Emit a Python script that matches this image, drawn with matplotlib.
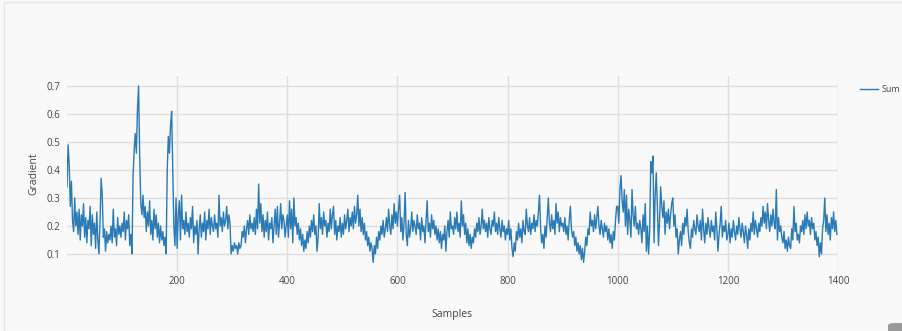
import numpy as np
import matplotlib.pyplot as plt
from matplotlib.patches import FancyBboxPatch, Rectangle

# sample index (every second sample) and gradient sum
samples = np.arange(0, 1400, 2)

gradient = [
    # 0 - 98
    0.34, 0.49, 0.42, 0.27, 0.36, 0.22, 0.18, 0.30, 0.20, 0.25,
    0.17, 0.26, 0.15, 0.24, 0.20, 0.28, 0.16, 0.23, 0.14, 0.22,
    0.19, 0.27, 0.13, 0.24, 0.17, 0.21, 0.12, 0.25, 0.15, 0.10,
    0.22, 0.37, 0.31, 0.16, 0.19, 0.11, 0.18, 0.14, 0.17, 0.15,
    0.20, 0.14, 0.26, 0.16, 0.19, 0.13, 0.23, 0.17, 0.20, 0.16,
    # 100 - 198
    0.21, 0.18, 0.25, 0.15, 0.22, 0.19, 0.24, 0.13, 0.17, 0.10,
    0.38, 0.47, 0.53, 0.46, 0.62, 0.70, 0.45, 0.28, 0.24, 0.31,
    0.23, 0.27, 0.18, 0.25, 0.20, 0.29, 0.17, 0.22, 0.15, 0.26,
    0.19, 0.24, 0.16, 0.21, 0.14, 0.20, 0.15, 0.18, 0.13, 0.16,
    0.10, 0.40, 0.52, 0.46, 0.56, 0.61, 0.41, 0.20, 0.13, 0.30,
    # 200 - 298
    0.12, 0.24, 0.29, 0.15, 0.31, 0.19, 0.22, 0.17, 0.25, 0.18,
    0.21, 0.16, 0.23, 0.19, 0.27, 0.14, 0.20, 0.17, 0.22, 0.10,
    0.19, 0.24, 0.16, 0.21, 0.18, 0.25, 0.15, 0.22, 0.19, 0.26,
    0.17, 0.23, 0.20, 0.18, 0.24, 0.19, 0.21, 0.16, 0.31, 0.20,
    0.23, 0.18, 0.25, 0.20, 0.22, 0.27, 0.19, 0.24, 0.21, 0.10,
    # 300 - 398
    0.13, 0.11, 0.14, 0.12, 0.13, 0.10, 0.14, 0.12, 0.13, 0.18,
    0.16, 0.20, 0.14, 0.19, 0.22, 0.17, 0.24, 0.19, 0.21, 0.18,
    0.23, 0.17, 0.26, 0.19, 0.35, 0.21, 0.28, 0.18, 0.24, 0.16,
    0.22, 0.18, 0.25, 0.15, 0.21, 0.19, 0.23, 0.14, 0.20, 0.26,
    0.17, 0.27, 0.16, 0.21, 0.28, 0.19, 0.24, 0.22, 0.16, 0.20,
    # 400 - 498
    0.24, 0.16, 0.29, 0.19, 0.26, 0.14, 0.30, 0.20, 0.23, 0.17,
    0.21, 0.15, 0.19, 0.13, 0.17, 0.11, 0.15, 0.12, 0.18, 0.14,
    0.20, 0.16, 0.22, 0.18, 0.24, 0.17, 0.20, 0.11, 0.16, 0.28,
    0.19, 0.23, 0.17, 0.25, 0.20, 0.22, 0.16, 0.21, 0.18, 0.26,
    0.19, 0.24, 0.27, 0.17, 0.22, 0.15, 0.20, 0.18, 0.23, 0.16,
    # 500 - 598
    0.21, 0.17, 0.24, 0.19, 0.22, 0.26, 0.18, 0.23, 0.20, 0.25,
    0.19, 0.27, 0.21, 0.24, 0.31, 0.20, 0.26, 0.18, 0.23, 0.17,
    0.21, 0.15, 0.18, 0.13, 0.16, 0.11, 0.14, 0.12, 0.07, 0.13,
    0.10, 0.16, 0.12, 0.18, 0.15, 0.20, 0.17, 0.22, 0.16, 0.19,
    0.23, 0.18, 0.26, 0.20, 0.17, 0.24, 0.19, 0.28, 0.21, 0.25,
    # 600 - 698
    0.20, 0.26, 0.31, 0.18, 0.23, 0.15, 0.21, 0.32, 0.17, 0.13,
    0.22, 0.16, 0.19, 0.25, 0.18, 0.22, 0.20, 0.17, 0.24, 0.19,
    0.21, 0.15, 0.23, 0.18, 0.20, 0.14, 0.22, 0.29, 0.18, 0.21,
    0.16, 0.24, 0.19, 0.22, 0.17, 0.20, 0.15, 0.19, 0.14, 0.18,
    0.12, 0.17, 0.15, 0.20, 0.11, 0.18, 0.22, 0.16, 0.25, 0.19,
    # 700 - 798
    0.20, 0.17, 0.23, 0.19, 0.25, 0.18, 0.21, 0.16, 0.29, 0.20,
    0.24, 0.17, 0.21, 0.14, 0.19, 0.13, 0.17, 0.12, 0.16, 0.14,
    0.19, 0.16, 0.21, 0.18, 0.23, 0.17, 0.20, 0.26, 0.19, 0.22,
    0.18, 0.21, 0.16, 0.23, 0.19, 0.17, 0.22, 0.20, 0.25, 0.18,
    0.21, 0.17, 0.23, 0.19, 0.16, 0.22, 0.18, 0.20, 0.15, 0.19,
    # 800 - 898
    0.17, 0.22, 0.15, 0.19, 0.12, 0.09, 0.14, 0.11, 0.18, 0.15,
    0.21, 0.16, 0.19, 0.14, 0.22, 0.18, 0.17, 0.26, 0.20, 0.18,
    0.23, 0.17, 0.21, 0.19, 0.24, 0.18, 0.22, 0.20, 0.25, 0.31,
    0.19, 0.14, 0.17, 0.12, 0.20, 0.16, 0.23, 0.30, 0.21, 0.18,
    0.24, 0.19, 0.22, 0.17, 0.28, 0.21, 0.25, 0.18, 0.23, 0.20,
    # 900 - 998
    0.21, 0.18, 0.23, 0.17, 0.20, 0.15, 0.22, 0.27, 0.19, 0.16,
    0.18, 0.13, 0.16, 0.11, 0.14, 0.10, 0.13, 0.08, 0.12, 0.07,
    0.11, 0.16, 0.13, 0.19, 0.17, 0.25, 0.20, 0.22, 0.18, 0.24,
    0.19, 0.23, 0.27, 0.20, 0.17, 0.22, 0.19, 0.16, 0.21, 0.18,
    0.20, 0.15, 0.19, 0.14, 0.17, 0.12, 0.18, 0.15, 0.22, 0.27,
    # 1000 - 1098
    0.27, 0.21, 0.33, 0.38, 0.29, 0.25, 0.33, 0.20, 0.31, 0.17,
    0.26, 0.22, 0.16, 0.33, 0.24, 0.20, 0.27, 0.19, 0.21, 0.17,
    0.22, 0.19, 0.14, 0.24, 0.18, 0.28, 0.11, 0.20, 0.10, 0.18,
    0.43, 0.39, 0.45, 0.14, 0.31, 0.39, 0.27, 0.13, 0.22, 0.34,
    0.27, 0.23, 0.29, 0.17, 0.25, 0.21, 0.26, 0.19, 0.24, 0.28,
    # 1100 - 1198
    0.30, 0.20, 0.24, 0.16, 0.19, 0.10, 0.15, 0.18, 0.13, 0.21,
    0.17, 0.23, 0.20, 0.26, 0.18, 0.14, 0.12, 0.19, 0.16, 0.22,
    0.19, 0.17, 0.24, 0.20, 0.18, 0.22, 0.15, 0.26, 0.19, 0.14,
    0.21, 0.17, 0.23, 0.19, 0.16, 0.22, 0.18, 0.20, 0.15, 0.25,
    0.19, 0.11, 0.17, 0.21, 0.27, 0.16, 0.20, 0.18, 0.22, 0.15,
    # 1200 - 1298
    0.17, 0.21, 0.14, 0.19, 0.16, 0.22, 0.18, 0.15, 0.20, 0.17,
    0.23, 0.19, 0.16, 0.21, 0.18, 0.14, 0.20, 0.17, 0.12, 0.19,
    0.15, 0.21, 0.18, 0.25, 0.17, 0.22, 0.19, 0.16, 0.21, 0.18,
    0.23, 0.20, 0.27, 0.21, 0.25, 0.19, 0.28, 0.22, 0.18, 0.24,
    0.20, 0.26, 0.21, 0.19, 0.33, 0.15, 0.23, 0.18, 0.20, 0.16,
    # 1300 - 1398
    0.14, 0.18, 0.12, 0.15, 0.11, 0.16, 0.13, 0.12, 0.19, 0.15,
    0.27, 0.18, 0.21, 0.15, 0.17, 0.14, 0.20, 0.18, 0.22, 0.17,
    0.24, 0.19, 0.25, 0.20, 0.22, 0.17, 0.23, 0.19, 0.21, 0.15,
    0.18, 0.13, 0.16, 0.09, 0.14, 0.10, 0.19, 0.22, 0.30, 0.18,
    0.24, 0.17, 0.21, 0.15, 0.23, 0.19, 0.25, 0.18, 0.22, 0.17,
]

x_ticks = [200, 400, 600, 800, 1000, 1200, 1400]
y_ticks = [0.1, 0.2, 0.3, 0.4, 0.5, 0.6, 0.7]

plt.rcParams['font.family'] = ['Open Sans', 'DejaVu Sans']

W, H = 902, 331
fig = plt.figure(figsize=(W / 100, H / 100), dpi=100)
fig.patch.set_facecolor('#f9f9f9')

# container border and scroll thumb
fig.add_artist(Rectangle((4 / W, 0), 1, 1 - 2 / H, transform=fig.transFigure,
                         facecolor='none', edgecolor='#e6e6e6', lw=1))
fig.add_artist(FancyBboxPatch((888 / W, -4 / H), 20 / W, 12 / H,
                              boxstyle='round,pad=0,rounding_size=0.008',
                              transform=fig.transFigure, facecolor='#9a9a9a',
                              edgecolor='none'))

ax = fig.add_axes([67 / W, 1 - 272 / H, (838 - 67) / W, (272 - 76) / H])
ax.set_facecolor('#f9f9f9')

ax.plot(samples, gradient, color='#2a7ab5', lw=1.0, label='Sum')

ax.set_xlim(0, 1400)
ax.set_ylim(0.0357, 0.7357)
ax.set_xticks(x_ticks)
ax.set_yticks(y_ticks)
ax.set_yticklabels([f'{v:.1f}' for v in y_ticks])
ax.grid(True, color='#dedede', lw=1)
ax.set_axisbelow(True)
for s in ax.spines.values():
    s.set_visible(False)
ax.tick_params(length=0, labelsize=7, colors='#444444')
ax.tick_params(axis='y', pad=5)
ax.tick_params(axis='x', pad=3)

ax.set_xlabel('Samples', fontsize=7.5, color='#444444', labelpad=16)
ax.set_ylabel('Gradient', fontsize=7.5, color='#444444', labelpad=5)

leg = ax.legend(loc='upper left', bbox_to_anchor=(1.024, 0.97), frameon=False,
                fontsize=6.5, handlelength=2.0, handletextpad=0.4,
                borderaxespad=0)
for t in leg.get_texts():
    t.set_color('#444444')

fig.savefig('out.png', dpi=100, facecolor=fig.get_facecolor())
